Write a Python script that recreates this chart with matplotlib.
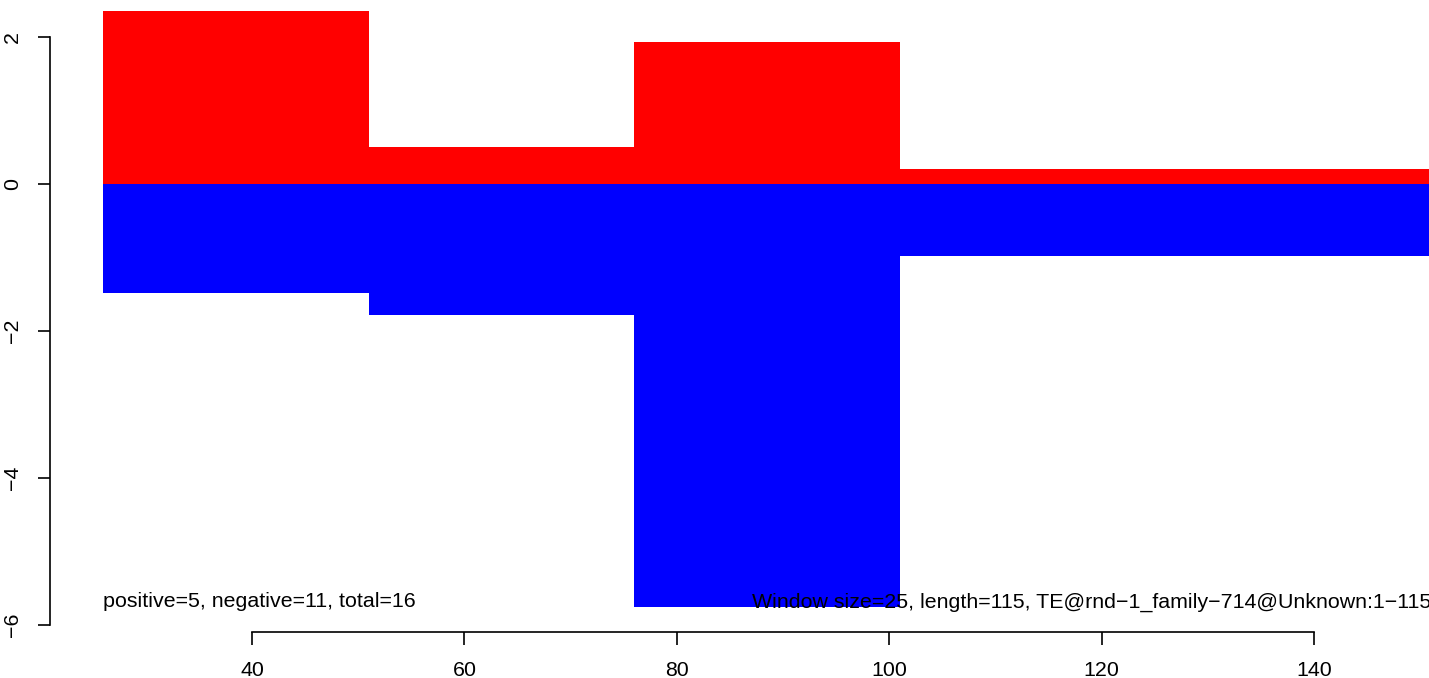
import numpy as np
import matplotlib
matplotlib.use("Agg")
import matplotlib.pyplot as plt

plt.rcParams['font.family'] = ['Liberation Sans', 'DejaVu Sans']

# window edges and per-window scores
edges = [26, 51, 76, 101, 151]
positive = [2.35, 0.50, 1.93, 0.20]
negative = [-1.48, -1.78, -5.76, -0.98]
xticks = [40, 60, 80, 100, 120, 140]
yticks = [-6, -4, -2, 0, 2]
left_text = "positive=5, negative=11, total=16"
right_text = "Window size=25, length=115, TE@rnd\u22121_family\u2212714@Unknown:1\u2212115"

W, H = 1429, 678
fig = plt.figure(figsize=(W / 100, H / 100), dpi=100)
fs = 15.4

# axes region in pixels (matches the R plot region)
x0, x1 = 26.0, 151.0
ppx = (1314 - 252) / 100.0  # pixels per x unit
left_px = 252 - (40 - x0) * ppx
right_px = 252 + (x1 - 40) * ppx
y_lo, y_hi = -6.0, 2.35
ppy = (625 - 37) / 8.0
top_px = 37 - (y_hi - 2) * ppy
bot_px = 625
ax = fig.add_axes([left_px / W, 1 - bot_px / H, (right_px - left_px) / W, (bot_px - top_px) / H])

lefts = np.array(edges[:-1])
widths = np.diff(edges)
ax.bar(lefts, positive, width=widths, align='edge', color='#ff0000', linewidth=0)
ax.bar(lefts, negative, width=widths, align='edge', color='#0000ff', linewidth=0)

ax.set_xlim(x0, x1)
ax.set_ylim(y_lo, y_hi)

for s in ['top', 'right']:
    ax.spines[s].set_visible(False)
ax.spines['left'].set_position(('outward', (left_px - 50) * 0.72))
ax.spines['bottom'].set_position(('outward', (632 - bot_px) * 0.72))
ax.spines['left'].set_bounds(-6, 2)
ax.spines['bottom'].set_bounds(40, 140)
for s in ['left', 'bottom']:
    ax.spines[s].set_linewidth(1.2)

ax.set_xticks(xticks)
ax.set_xticklabels([str(t) for t in xticks])
ax.set_yticks(yticks)
ax.set_yticklabels([str(t).replace('-', '\u2212') for t in yticks], rotation=90, va='center')
ax.tick_params(axis='both', length=9, width=1.2, labelsize=fs, colors='black')
ax.tick_params(axis='x', pad=12)
ax.tick_params(axis='y', pad=11)

ax.text(x0, -5.76, left_text, ha='left', va='baseline', fontsize=fs, zorder=5)
ax.text(x1, -5.76, right_text, ha='right', va='baseline', fontsize=fs, zorder=5)

fig.savefig("out.png", dpi=100)
